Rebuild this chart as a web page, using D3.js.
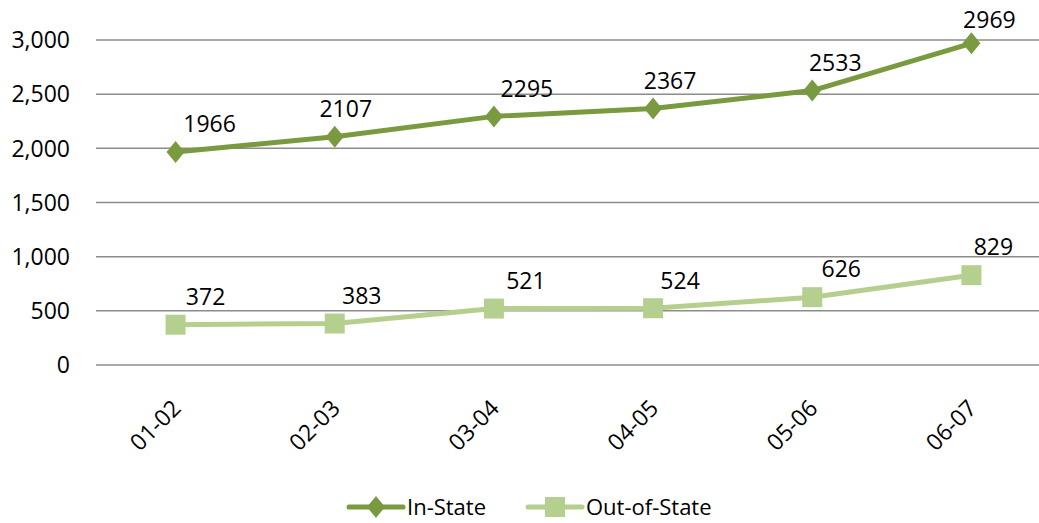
<!DOCTYPE html>
<html>
<head>
<meta charset="utf-8">
<script src="https://cdn.jsdelivr.net/npm/d3@7"></script>
<style>
  body { margin: 0; background: #fff; }
  svg text { font-family: "Open Sans", "Noto Sans", sans-serif; fill: #000; }
</style>
</head>
<body>
<div id="chart"></div>
<script>
// school years on the x axis
var years = ["01-02", "02-03", "03-04", "04-05", "05-06", "06-07"];
var inState = [1966, 2107, 2295, 2367, 2533, 2969];
var outState = [372, 383, 521, 524, 626, 829];
var yTicks = [0, 500, 1000, 1500, 2000, 2500, 3000];

// labels sit a bit right of the marker, not exactly centred
var inLabelShift = [34, 11, 33, 17, 23, 18];
var outLabelShift = [30, 27, 32, 27, 29, 22];

var width = 1039, height = 523;
var plotLeft = 96, plotRight = 1051, plotTop = 40, plotBottom = 365;

var svg = d3.select("#chart").append("svg")
  .attr("width", width)
  .attr("height", height);

var x = d3.scalePoint()
  .domain(years)
  .range([plotLeft, plotRight])
  .padding(0.5);

var y = d3.scaleLinear()
  .domain([0, 3000])
  .range([plotBottom, plotTop]);

// gridlines
svg.append("g")
  .selectAll("line")
  .data(yTicks)
  .enter().append("line")
  .attr("x1", plotLeft)
  .attr("x2", plotRight)
  .attr("y1", function (d) { return y(d); })
  .attr("y2", function (d) { return y(d); })
  .style("stroke", "#8c8c8c")
  .style("stroke-width", 1.5);

// y axis labels
var fmt = d3.format(",");
svg.append("g")
  .selectAll("text")
  .data(yTicks)
  .enter().append("text")
  .attr("x", 70)
  .attr("y", function (d) { return y(d); })
  .attr("dy", "0.36em")
  .attr("text-anchor", "end")
  .style("font-size", "23px")
  .text(function (d) { return fmt(d); });

// x axis labels, rotated
svg.append("g")
  .selectAll("text")
  .data(years)
  .enter().append("text")
  .attr("transform", function (d) {
    return "translate(" + (x(d) + 1) + "," + 404 + ") rotate(-45)";
  })
  .attr("text-anchor", "end")
  .attr("dy", "0.35em")
  .style("font-size", "23px")
  .text(function (d) { return d; });

var line = d3.line()
  .x(function (d, i) { return x(years[i]); })
  .y(function (d) { return y(d); });

var inColor = "#7a9a40", outColor = "#b5cf8e";

function drawSeries(vals, color, shape, shifts) {
  var g = svg.append("g");
  g.append("path")
    .datum(vals)
    .attr("d", line)
    .style("fill", "none")
    .style("stroke", color)
    .style("stroke-width", 5)
    .style("stroke-linejoin", "round");

  g.selectAll("path.mk")
    .data(vals)
    .enter().append("path")
    .attr("class", "mk")
    .attr("d", shape)
    .attr("transform", function (d, i) {
      return "translate(" + x(years[i]) + "," + y(d) + ")";
    })
    .style("fill", color);

  g.selectAll("text")
    .data(vals)
    .enter().append("text")
    .attr("x", function (d, i) { return x(years[i]) + shifts[i]; })
    .attr("y", function (d) { return Math.max(y(d) - 28, 20); })
    .attr("dy", "0.36em")
    .attr("text-anchor", "middle")
    .style("font-size", "23px")
    .text(function (d) { return d; });
}

var diamond = "M0,-11L9,0L0,11L-9,0Z";
var square = "M-10,-10H10V10H-10Z";

drawSeries(outState, outColor, square, outLabelShift);
drawSeries(inState, inColor, diamond, inLabelShift);

// legend
var legend = [
  { name: "In-State", color: inColor, shape: diamond, x: 349 },
  { name: "Out-of-State", color: outColor, shape: square, x: 528 }
];
var ly = 507;
var lg = svg.append("g").selectAll("g")
  .data(legend)
  .enter().append("g")
  .attr("transform", function (d) { return "translate(" + d.x + "," + ly + ")"; });

lg.append("line")
  .attr("x1", 0).attr("x2", 54)
  .style("stroke", function (d) { return d.color; })
  .style("stroke-width", 5)
  .style("stroke-linecap", "round");

lg.append("path")
  .attr("d", function (d) { return d.shape; })
  .attr("transform", "translate(27,0)")
  .style("fill", function (d) { return d.color; });

lg.append("text")
  .attr("x", 58)
  .attr("dy", "0.36em")
  .style("font-size", "22px")
  .text(function (d) { return d.name; });
</script>
</body>
</html>
